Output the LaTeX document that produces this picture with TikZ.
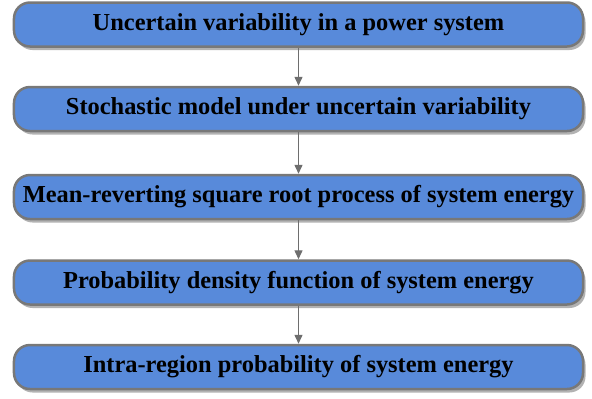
\documentclass[tikz,border=0pt]{standalone}
\usepackage{fontspec}
\setmainfont{Liberation Serif}
\usetikzlibrary{shadows,arrows.meta}
\definecolor{boxblue}{RGB}{88,138,218}
\definecolor{boxborder}{RGB}{120,120,120}
\definecolor{arrowgray}{RGB}{110,110,110}
\tikzset{
  stepbox/.style={draw=boxborder, line width=2.5bp, fill=boxblue, rounded corners=16bp,
    minimum width=569bp, minimum height=44bp, inner sep=0pt,
    font=\fontsize{24.5}{27}\selectfont\bfseries,
    drop shadow={shadow xshift=2.5bp, shadow yshift=-3.5bp, fill=black, opacity=0.3}},
  flow/.style={draw=arrowgray, line width=1.4bp, -{Triangle[length=9bp,width=8bp]}}
}
\begin{document}
\begin{tikzpicture}[x=1bp,y=-1bp]
\useasboundingbox (0,0) rectangle (592,398);
\node[stepbox] (b1) at (298.5,24.5) {Uncertain variability in a power system};
\node[stepbox] (b2) at (298.5,109) {Stochastic model under uncertain variability};
\node[stepbox] (b3) at (298.5,197) {Mean-reverting square root process of system energy};
\node[stepbox] (b4) at (298.5,282.5) {Probability density function of system energy};
\node[stepbox] (b5) at (298.5,367) {Intra-region probability of system energy};
\draw[flow] (b1.south) -- (b2.north);
\draw[flow] (b2.south) -- (b3.north);
\draw[flow] (b3.south) -- (b4.north);
\draw[flow] (b4.south) -- (b5.north);
\end{tikzpicture}
\end{document}
